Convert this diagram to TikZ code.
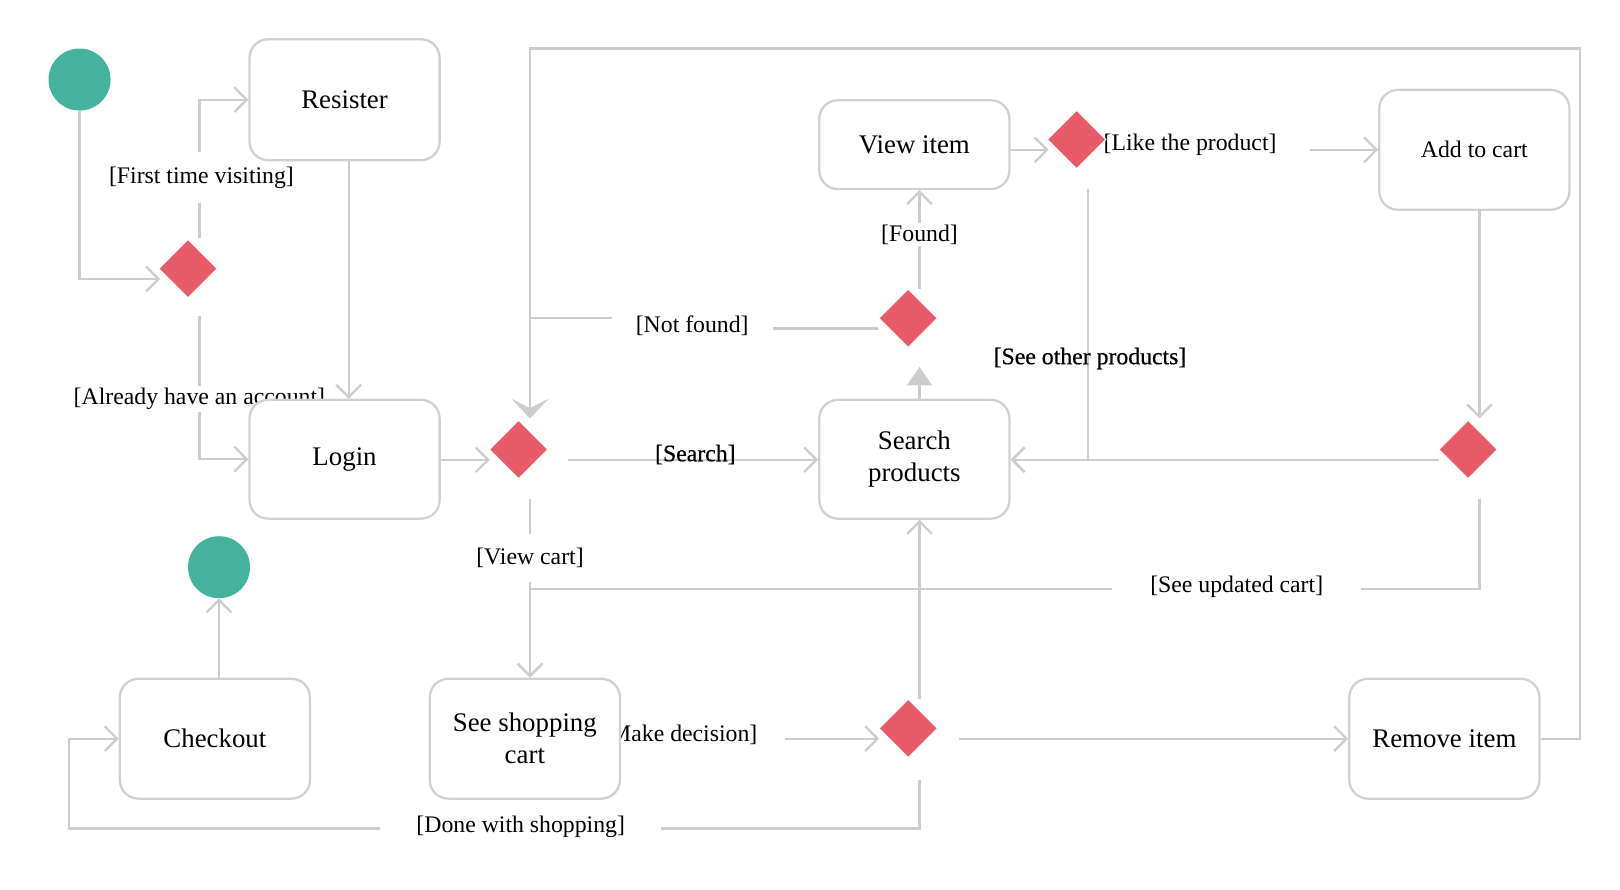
\documentclass[tikz,border=0pt]{standalone}
\usepackage{fontspec}
\setmainfont{Liberation Serif}
\newfontface\semibold[FakeBold=0.5]{Liberation Serif}
\usetikzlibrary{arrows.meta,shapes.geometric,calc}
\pgfdeclarelayer{bg}
\pgfsetlayers{bg,main}
\definecolor{lncol}{HTML}{CCCCCC}
\definecolor{bxcol}{HTML}{D0D0D0}
\definecolor{decred}{HTML}{E95A69}
\definecolor{termteal}{HTML}{45B29D}
\begin{document}
\begin{tikzpicture}[x=1pt,y=-1pt,
  act/.style={draw=bxcol, line width=2.2pt, rounded corners=18pt, fill=white,
    minimum width=184pt, minimum height=116pt, align=center,
    font=\fontsize{26}{31}\selectfont, inner sep=0pt},
  dec/.style={diamond, aspect=1, fill=decred, draw=white, line width=1pt,
    minimum width=57pt, minimum height=57pt, inner sep=0pt},
  term/.style={circle, fill=termteal, minimum size=60pt, inner sep=0pt},
  flow/.style={draw=lncol, line width=2.2pt},
  arr/.style={flow, -{Straight Barb[length=12pt,width=24pt]}},
  lab/.style={font=\fontsize{23}{28}\selectfont, fill=white, inner xsep=25pt, inner ysep=14pt},
  labs/.style={font=\fontsize{23}{28}\selectfont, fill=white, inner sep=2pt},
  labn/.style={font=\fontsize{23}{28}\selectfont\semibold, inner sep=2pt}]
\begin{pgfonlayer}{bg}
\fill[white] (0,0) rectangle (1568,861.4);
\end{pgfonlayer}
\useasboundingbox (0,0) rectangle (1568,861.4);

% nodes
\node[term] (start) at (77,77) {};
\node[act, minimum height=117pt] (reg) at (333.5,96.5) {Resister};
\node[dec] (d1) at (182,260) {};
\node[act, minimum height=115pt] (login) at (333.5,444.5) {Login};
\node[dec] (d2) at (502,435) {};
\node[act, minimum height=86pt] (view) at (885,140) {View item};
\node[dec] (d3) at (1042,135) {};
\node[act, font=\fontsize{23}{28}\selectfont] (add) at (1427,145) {Add to cart};
\node[dec] (d4) at (879,308) {};
\node[act, minimum height=115pt] (search) at (885,444.5) {Search\\products};
\node[dec] (d5) at (1421,435) {};
\node[term] (end) at (212,549) {};
\node[act] (checkout) at (208,715) {Checkout};
\node[act] (cart) at (508,715) {See shopping\\cart};
\node[dec] (d6) at (879,705) {};
\node[act] (remove) at (1398,715) {Remove item};

% connection points of the decisions
\coordinate (c1) at ($(d1)+(11,10)$);
\coordinate (c2) at ($(d2)+(11,10)$);
\coordinate (c3) at ($(d3)+(11,10)$);
\coordinate (c4) at ($(d4)+(11,10)$);
\coordinate (c5) at ($(d5)+(11,10)$);
\coordinate (c6) at ($(d6)+(11,10)$);
\coordinate (likeend) at (1268,145);
\coordinate (dleft) at (67,802);

\begin{pgfonlayer}{bg}
% start / register / login
\draw[arr] (start.south) |- ($(c1)+(-38,0)$);
\draw[arr] ($(c1)+(0,-40)$) |- (reg.west);
\node[lab] (lfirst) at (195,172) {[First time visiting]};
\draw[arr] ($(c1)+(0,36)$) |- (login.west);
\node[labs] (lalready) at (193,386) {[Already have an account]};
\draw[arr] ($(reg.south)+(4,0)$) -- ($(login.north)+(4,0)$);
\draw[arr] (login.east |- c2) -- ($(c2)+(-39,0)$);
% search
\draw[arr] ($(c2)+(37,0)$) -- (search.west |- c2);
\node[labn] (lsearch) at (673,440) {[Search]};
% view cart
\draw[arr] ($(c2)+(0,38)$) -- (cart.north -| c2);
\node[lab] (lviewcart) at (513,540) {[View cart]};
\draw[arr] ($(c5)+(0,38)$) |- ($(c2)+(0,125)$) -- (cart.north -| c2);
\node[lab, inner xsep=37pt] (lupdated) at (1197,568) {[See updated cart]};
% found / not found
\draw[flow, -{Triangle[length=18pt,width=24pt]}] (search.north -| c4) -- ($(c4)+(0,37)$);
\draw[arr] ($(c4)+(0,-38)$) -- (view.south -| c4);
\node[labs] (lfound) at (890,227) {[Found]};
\draw[flow] ($(c4)+(-40,0)$) -- ($(c4)+(-142,0)$);
\draw[flow] ($(c2)+(79,-137)$) -- ($(c2)+(0,-137)$);
\node[lab, inner xsep=23pt] (lnotfound) at (670,315) {[Not found]};
% remove loop
\draw[flow, -{Stealth[length=19pt,width=36pt,inset=9pt]}] (remove.east) -- ++(38,0) |- ($(c2)+(0,-398)$) -- ($(c2)+(0,-40)$);
% view item / like
\draw[arr] (view.east |- c3) -- ($(c3)+(-38,0)$);
\draw[arr] (likeend) -- (add.west);
\node[labs, fill=none, anchor=west, inner sep=0pt] (llike) at (1068,140) {[Like the product]};
\draw[arr] ($(c3)+(0,38)$) |- (search.east |- c5);
\node[labn] (lother) at (1055,347) {[See other products]};
\draw[arr] (add.south -| c5) -- ($(c5)+(0,-40)$);
\draw[arr] ($(c5)+(-39,0)$) -- (search.east |- c5);
% make decision
\draw[arr] (cart.east) -- ($(c6)+(-39,0)$);
\node[lab, inner xsep=27pt] (lmake) at (658,711) {[Make decision]};
\draw[arr] ($(c6)+(0,-38)$) -- (search.south -| c6);
\draw[arr] ($(c6)+(38,0)$) -- (remove.west);
\draw[arr] ($(c6)+(0,40)$) |- (dleft) |- (checkout.west);
\node[lab, inner xsep=35pt] (ldone) at (504,800) {[Done with shopping]};
\draw[arr] (checkout.north -| end) -- (end.south);
\end{pgfonlayer}
\end{tikzpicture}
\end{document}
